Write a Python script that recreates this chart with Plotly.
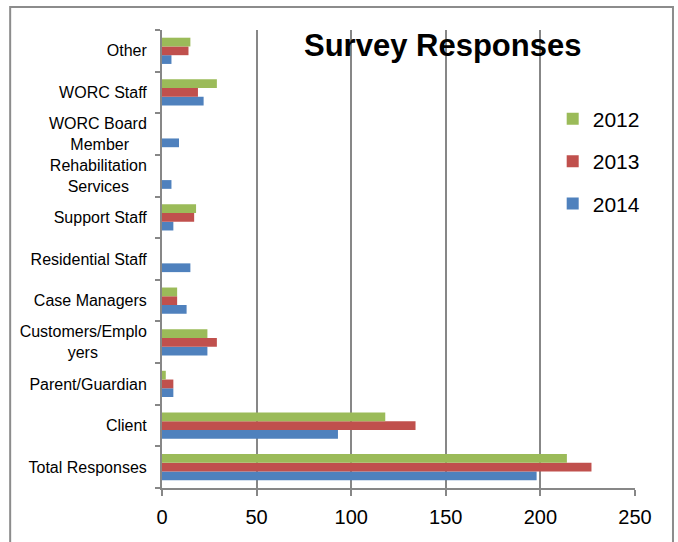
import plotly.graph_objects as go

NB = "\u00a0"
categories = ["Total Responses", "Client", "Parent/Guardian", "Customers/Emplo<br>yers" + NB * 11,
              "Case Managers", "Residential Staff", "Support Staff",
              "Rehabilitation<br>Services" + NB * 4, "WORC Board<br>Member" + NB * 4,
              "WORC Staff", "Other"]
v2014 = [198, 93, 6, 24, 13, 15, 6, 5, 9, 22, 5]
v2013 = [227, 134, 6, 29, 8, 0, 17, 0, 0, 19, 14]
v2012 = [214, 118, 2, 24, 8, 0, 18, 0, 0, 29, 15]
x_ticks = [0, 50, 100, 150, 200, 250]

colors = {"2014": "#4F81BD", "2013": "#C0504D", "2012": "#9BBB59"}
ranks = {"2012": 1, "2013": 2, "2014": 3}

fig = go.Figure()
for name, vals in [("2014", v2014), ("2013", v2013), ("2012", v2012)]:
    fig.add_trace(go.Bar(y=categories, x=vals, name=name, orientation="h",
                         marker=dict(color=colors[name], line=dict(width=0)),
                         legendgroup=name, legendrank=ranks[name]))

GRID = "#878787"
fig.update_layout(
    width=678, height=542,
    margin=dict(l=162, r=43, t=30, b=54),
    paper_bgcolor="white", plot_bgcolor="white",
    barmode="group", bargap=0.37, bargroupgap=0,
    font=dict(family="Liberation Sans, Arial, sans-serif", color="black"),
    showlegend=True,
    legend=dict(x=0.826, y=0.85, xanchor="left", yanchor="top",
                traceorder="grouped", tracegroupgap=12,
                font=dict(size=21), bgcolor="rgba(0,0,0,0)",
                itemwidth=30),
    xaxis=dict(range=[0, 250], tickvals=x_ticks, showgrid=True,
               gridcolor=GRID, gridwidth=2, showline=True, linecolor=GRID,
               linewidth=2, ticks="outside", ticklen=6, tickcolor=GRID,
               tickwidth=2, tickfont=dict(size=20), zeroline=False,
               ticklabelstandoff=4, fixedrange=True),
    yaxis=dict(type="category", showline=True, linecolor=GRID, linewidth=2,
               ticks="outside", tickson="boundaries", ticklen=5,
               tickcolor=GRID, tickwidth=2, tickfont=dict(size=16),
               showgrid=False, ticklabelstandoff=10),
    annotations=[dict(text="<b>Survey Responses</b>", xref="paper", yref="paper",
                      x=0.594, y=0.967, xanchor="center", yanchor="middle",
                      showarrow=False, font=dict(size=31, color="black"))],
    shapes=[dict(type="path", xref="paper", yref="paper",
                 path="M -0.321 -0.3 L -0.321 1.0502 L 1.0803 1.0502 L 1.0803 -0.3",
                 line=dict(color="#8c8c8c", width=2), layer="above")],
)

fig.write_html("out.html")
